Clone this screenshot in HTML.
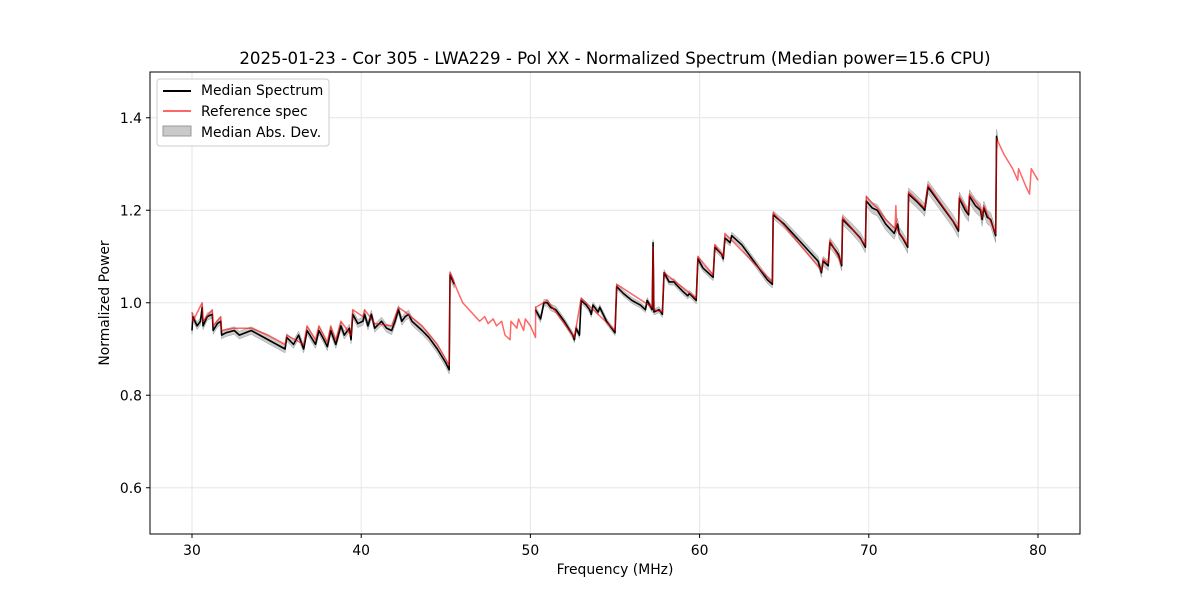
<!DOCTYPE html>
<html><head><meta charset="utf-8"><style>
body{margin:0;background:#fff;}
svg text{font-family:"DejaVu Sans","Liberation Sans",sans-serif;}
</style></head><body>
<svg id="chart" width="1200" height="600" xmlns="http://www.w3.org/2000/svg">
<rect width="1200" height="600" fill="#fff"/>
<text x="615" y="64" font-size="16.6" text-anchor="middle">2025-01-23 - Cor 305 - LWA229 - Pol XX - Normalized Spectrum (Median power=15.6 CPU)</text>
<g id="grid"></g><g id="band"></g><g id="lines"></g>
<rect x="150" y="72" width="930" height="462" fill="none" stroke="#000" stroke-width="1"/>
<g id="ticks"></g>
<text x="615" y="574" font-size="13.9" text-anchor="middle">Frequency (MHz)</text>
<text transform="translate(109,303) rotate(-90)" font-size="13.9" text-anchor="middle">Normalized Power</text>
<g>
<rect x="157" y="79" width="172" height="67" rx="3" fill="#fff" stroke="#ccc"/>
<line x1="163" y1="91" x2="191" y2="91" stroke="#000" stroke-width="2"/>
<text x="201" y="95" font-size="13.9">Median Spectrum</text>
<line x1="163" y1="111" x2="191" y2="111" stroke="#ff6666" stroke-width="2"/>
<text x="201" y="116" font-size="13.9">Reference spec</text>
<rect x="163" y="126" width="28" height="10" fill="#bbb" fill-opacity="0.8" stroke="#999"/>
<text x="201" y="137" font-size="13.9">Median Abs. Dev.</text>
</g>
</svg>
<script>
const xTicks=[30,40,50,60,70,80];
const yTicks=[0.6,0.8,1.0,1.2,1.4];
const medFreq=[30.0,30.05,30.3,30.5,30.6,30.65,30.9,31.2,31.25,31.5,31.7,31.75,32.0,32.5,32.8,33.5,34.0,34.5,35.0,35.5,35.6,36.0,36.3,36.6,36.8,37.3,37.5,37.8,38.0,38.2,38.5,38.8,39.0,39.3,39.4,39.5,39.8,40.1,40.2,40.4,40.6,40.8,41.2,41.5,41.8,42.0,42.2,42.4,42.6,42.8,43.0,43.3,43.6,44.0,44.5,45.0,45.2,45.25,45.5];
const medVal=[0.94,0.97,0.95,0.96,0.99,0.95,0.97,0.975,0.94,0.955,0.96,0.93,0.935,0.94,0.93,0.94,0.93,0.92,0.91,0.90,0.925,0.91,0.93,0.90,0.94,0.91,0.94,0.92,0.905,0.94,0.91,0.95,0.93,0.945,0.92,0.975,0.955,0.96,0.975,0.95,0.975,0.945,0.96,0.945,0.94,0.96,0.985,0.96,0.97,0.975,0.96,0.95,0.94,0.925,0.9,0.87,0.855,1.06,1.04];
const medFreq2=[50.3,50.6,50.8,51.0,51.2,51.5,52.0,52.5,52.6,52.7,52.9,53.0,53.3,53.5,53.6,53.7,54.0,54.1,54.3,54.5,55.0,55.1,55.5,56.0,56.5,56.8,56.9,57.2,57.25,57.3,57.6,57.8,57.9,58.2,58.5,58.6,59.0,59.3,59.4,59.8,59.9,60.2,60.5,60.8,60.9,61.3,61.4,61.5,61.8,61.9,62.5,63.0,63.5,64.0,64.3,64.35,65.0,66.0,66.5,67.0,67.2,67.3,67.6,67.7,68.2,68.4,68.45,69.0,69.5,69.8,69.85,70.2,70.5,71.0,71.5,71.7,71.8,72.0,72.3,72.35,72.8,73.2,73.3,73.5,74.0,74.5,75.0,75.3,75.35,75.7,75.9,75.95,76.3,76.6,76.7,76.8,77.0,77.2,77.5,77.55,77.6];
const medVal2=[0.985,0.965,1.0,1.0,0.99,0.985,0.96,0.93,0.92,0.945,0.93,1.005,0.995,0.985,0.975,0.995,0.98,0.99,0.975,0.96,0.935,1.035,1.02,1.005,0.995,0.985,1.005,0.985,1.13,0.98,0.985,0.975,1.065,1.045,1.045,1.04,1.025,1.015,1.02,1.005,1.095,1.075,1.065,1.055,1.12,1.105,1.095,1.14,1.13,1.145,1.125,1.1,1.075,1.05,1.04,1.19,1.17,1.13,1.11,1.09,1.065,1.09,1.08,1.13,1.105,1.08,1.18,1.16,1.14,1.12,1.22,1.205,1.2,1.17,1.15,1.17,1.15,1.14,1.12,1.235,1.22,1.205,1.2,1.25,1.225,1.2,1.175,1.155,1.225,1.2,1.19,1.23,1.21,1.2,1.18,1.205,1.185,1.18,1.145,1.36,1.35];
const refFreq=[30.0,30.05,30.6,30.65,31.2,31.25,31.7,31.75,32.5,33.5,34.5,35.5,35.6,36.6,36.8,37.3,37.5,38.0,38.2,38.5,38.8,39.4,39.5,40.1,40.2,40.8,41.8,42.2,42.6,43.6,44.5,45.2,45.25,45.7,46.0,46.5,47.0,47.3,47.5,47.8,48.0,48.3,48.5,48.8,48.85,49.2,49.3,49.6,49.7,50.0,50.3,50.31,51.0,52.6,53.0,55.0,55.1,57.2,57.25,57.3,57.8,57.9,59.8,59.9,60.8,60.9,61.4,61.5,64.3,64.35,67.2,67.3,67.6,67.7,68.4,68.45,69.8,69.85,70.2,70.5,71.0,71.55,71.6,71.65,72.3,72.35,73.3,73.5,75.3,75.35,75.9,75.95,76.6,76.7,76.8,77.5,77.55,78.0,78.5,78.8,78.85,79.3,79.5,79.6,80.0];
const refVal=[0.98,0.96,1.0,0.96,0.985,0.95,0.97,0.94,0.945,0.945,0.93,0.91,0.93,0.91,0.95,0.92,0.95,0.915,0.95,0.92,0.96,0.93,0.985,0.97,0.985,0.955,0.95,0.99,0.98,0.95,0.91,0.865,1.065,1.025,1.0,0.98,0.96,0.97,0.955,0.965,0.95,0.96,0.93,0.92,0.96,0.945,0.965,0.94,0.965,0.95,0.925,0.99,1.005,0.925,1.01,0.94,1.04,0.99,1.12,0.985,0.98,1.065,1.01,1.1,1.06,1.125,1.1,1.15,1.045,1.195,1.07,1.095,1.085,1.135,1.085,1.185,1.125,1.23,1.215,1.205,1.18,1.16,1.21,1.16,1.125,1.24,1.205,1.255,1.16,1.23,1.195,1.235,1.205,1.185,1.21,1.15,1.355,1.32,1.29,1.265,1.29,1.25,1.235,1.29,1.265];
const madFreq=[30,45,55,64,70,77.6];
const madWidth=[0.008,0.009,0.006,0.008,0.012,0.015];

const NS='http://www.w3.org/2000/svg';
const X=f=>192+(f-30)*16.92;
const Y=v=>534-(v-0.5)*462.5;
const byId=id=>document.getElementById(id);
function mk(tag,attrs,parent){const e=document.createElementNS(NS,tag);for(const k in attrs)e.setAttribute(k,attrs[k]);parent.appendChild(e);return e;}
xTicks.forEach(t=>{
  const l=mk('line',{x1:X(t),x2:X(t),y1:72,y2:534,stroke:'#e6e6e6'},byId('grid'));
  
  
  mk('line',{x1:X(t),x2:X(t),y1:534,y2:538,stroke:'#000'},byId('ticks'));
  const tx=mk('text',{x:X(t),y:555,'font-size':13.9,'text-anchor':'middle'},byId('ticks'));tx.textContent=t;
  
  
});
yTicks.forEach(t=>{
  const l=mk('line',{x1:150,x2:1080,y1:Y(t),y2:Y(t),stroke:'#e6e6e6'},byId('grid'));
  
  
  mk('line',{x1:146,x2:150,y1:Y(t),y2:Y(t),stroke:'#000'},byId('ticks'));
  const tx=mk('text',{x:142,y:Y(t)+5,'font-size':13.9,'text-anchor':'end'},byId('ticks'));tx.textContent=t.toFixed(1);
  
  
});
function madAt(f){for(let i=1;i<madFreq.length;i++){if(f<=madFreq[i]){const r=(f-madFreq[i-1])/(madFreq[i]-madFreq[i-1]);return madWidth[i-1]+r*(madWidth[i]-madWidth[i-1]);}}return madWidth[madWidth.length-1];}
function band(fs,vs){
  const up=fs.map((f,i)=>X(f)+','+Y(vs[i]+madAt(f)));
  const dn=fs.map((f,i)=>X(f)+','+Y(vs[i]-madAt(f))).reverse();
  const p=mk('polygon',{points:up.concat(dn).join(' '),fill:'#aaa','fill-opacity':0.6,stroke:'#999','stroke-width':0.5},byId('band'));
  
  
}
band(medFreq,medVal);band(medFreq2,medVal2);
function line(fs,vs,color,w,op,name){
  const p=mk('polyline',{points:fs.map((f,i)=>X(f)+','+Y(vs[i])).join(' '),fill:'none',stroke:color,'stroke-width':w,'stroke-opacity':op,'stroke-linejoin':'round'},byId('lines'));
  
  
}
line(medFreq,medVal,'#000',1.6,1,'median-spectrum-line');
line(medFreq2,medVal2,'#000',1.6,1,'median-spectrum-line');
line(refFreq,refVal,'#ff0000',1.5,0.6,'reference-spectrum-line');
</script>
</body></html>
